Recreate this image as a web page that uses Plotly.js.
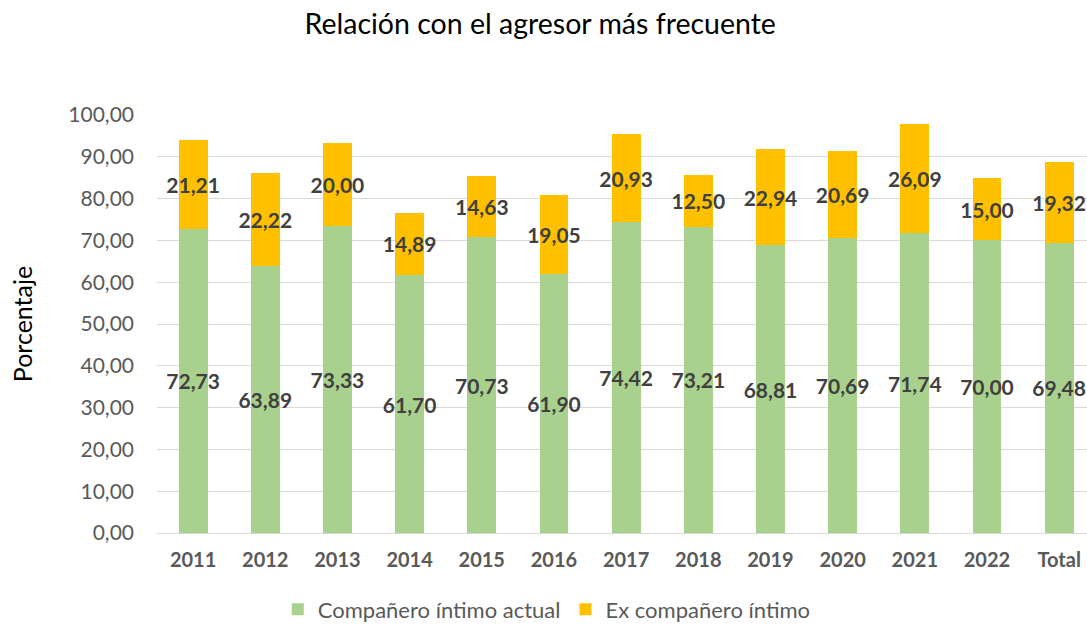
<!DOCTYPE html>
<html>
<head>
<meta charset="utf-8">
<script src="https://cdn.plot.ly/plotly-3.0.1.min.js"></script>
<style>html,body{margin:0;padding:0;background:#fff;}#chart{width:1087px;height:625px;}</style>
</head>
<body>
<div id="chart"></div>
<script>
const categories = ["2011","2012","2013","2014","2015","2016","2017","2018","2019","2020","2021","2022","Total"];
const actual = [72.73,63.89,73.33,61.70,70.73,61.90,74.42,73.21,68.81,70.69,71.74,70.00,69.48];
const ex = [21.21,22.22,20.00,14.89,14.63,19.05,20.93,12.50,22.94,20.69,26.09,15.00,19.32];
const seriesNames = ["Compañero íntimo actual","Ex compañero íntimo"];
const yTicks = [0,10,20,30,40,50,60,70,80,90,100];

const fontFam = "Lato, 'Open Sans', sans-serif";
const labelFont = {family: fontFam, size: 21, color: "#404040", weight: "bold"};

function barTrace(name, vals, color) {
  return {
    type: "bar", name: name, x: categories, y: vals,
    marker: {color: color},
    texttemplate: "<b>%{y:.2f}</b>", textposition: "inside", insidetextanchor: "middle",
    textangle: 0, constraintext: "none", cliponaxis: false,
    insidetextfont: labelFont, textfont: labelFont,
    hoverinfo: "skip"
  };
}

const data = [
  barTrace(seriesNames[0], actual, "#A9D18E"),
  barTrace(seriesNames[1], ex, "#FFC000")
];

const layout = {
  width: 1087, height: 625,
  margin: {l: 157, r: 0, t: 115, b: 92},
  paper_bgcolor: "#fff", plot_bgcolor: "#fff",
  separators: ",.",
  barmode: "stack", bargap: 0.6,
  font: {family: fontFam, color: "#595959"},
  title: {text: "Relación con el agresor más frecuente", font: {family: fontFam, size: 28.5, color: "#000"},
          x: 0.497, xref: "container", y: 0.962, yref: "container", yanchor: "middle"},
  xaxis: {
    type: "category", range: [-0.5, 12.386],
    showgrid: false, showline: false, zeroline: false, ticks: "",
    tickfont: {family: fontFam, size: 20, color: "#595959", weight: "bold"},
    ticklabelstandoff: 13, fixedrange: true
  },
  yaxis: {
    range: [0, 100], tickvals: yTicks, tickformat: ".2f",
    showgrid: true, gridcolor: "#d9d9d9", gridwidth: 1,
    zeroline: true, zerolinecolor: "#d9d9d9", zerolinewidth: 1,
    showline: false, ticks: "",
    tickfont: {family: fontFam, size: 21, color: "#595959"},
    ticklabelstandoff: 22,
    title: {text: "Porcentaje", font: {family: fontFam, size: 25, color: "#000"}, standoff: 28},
    fixedrange: true
  },
  showlegend: true,
  legend: {orientation: "h", xref: "container", x: 0.503, xanchor: "center", yref: "container", y: 0.025, yanchor: "middle",
           font: {family: fontFam, size: 22, color: "#595959"}, traceorder: "normal", itemwidth: 30},
};

Plotly.newPlot("chart", data, layout, {displayModeBar: false, staticPlot: true});
</script>
</body>
</html>
